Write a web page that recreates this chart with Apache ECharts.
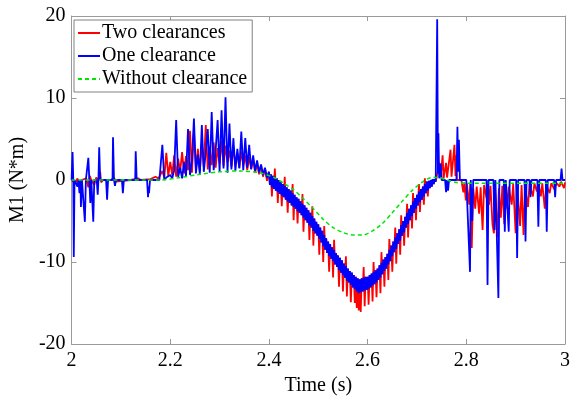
<!DOCTYPE html>
<html>
<head>
<meta charset="utf-8">
<script src="https://cdn.jsdelivr.net/npm/echarts@6/dist/echarts.min.js"></script>
<style>
  html, body { margin: 0; padding: 0; background: #fff; }
  #chart { width: 574px; height: 401px; }
</style>
</head>
<body>
<div id="chart"></div>
<script>
// Torque M1 over time for three joint clearance cases.
const seriesNames = ['Two clearances', 'One clearance', 'Without clearance'];
const xTicks = [2, 2.2, 2.4, 2.6, 2.8, 3];
const yTicks = [-20, -10, 0, 10, 20];

// Sparse samples before the burst (time, value)
const redPreT = [2.000, 2.008, 2.012, 2.016, 2.020, 2.030, 2.034, 2.037, 2.040, 2.046, 2.050, 2.055, 2.058, 2.060, 2.064, 2.080, 2.086, 2.090, 2.094, 2.120, 2.135, 2.140, 2.160, 2.170, 2.176];
const redPreV = [0, -0.4, 0.2, -0.8, 0, 0.2, -0.9, 0.5, 0, -0.6, 0.3, 0, 1.0, -0.3, 0, 0, 0.3, -0.2, 0, 0, 0.2, 0, 0.1, 0.4, 0.2];

const bluePreT = [2.000, 2.002, 2.0035, 2.0045, 2.006, 2.010, 2.012, 2.014, 2.016, 2.018, 2.019, 2.021, 2.025, 2.027, 2.029, 2.033, 2.034, 2.036, 2.038, 2.040, 2.043, 2.044, 2.046, 2.051, 2.053, 2.0545, 2.056, 2.058, 2.070, 2.072, 2.074, 2.083, 2.084, 2.086, 2.088, 2.090, 2.102, 2.104, 2.106, 2.129, 2.130, 2.132, 2.153, 2.155, 2.156, 2.157, 2.159, 2.178];
const bluePreV = [0, 3.4, 0, -9.4, 0, 0, -0.8, 0, -1.6, 0, -3.3, 0, 0, -5.1, 0, 0, 2.7, 0, -2.8, 0, 0, -5.1, 0, 0, -1.8, 0, 4.0, 0, 0, -2.4, 0, 0, 5.2, 0, -0.7, 0, 0, -1.6, 0, 0, 3.5, 0, 0, -2.1, -0.8, -1.6, 0, 0];

// Burst of impacts, evenly sampled from 2.180 s to 2.396 s
const burstStart = 2.18;
const burstStep = 0.004;
const redBurst = [
  0.2, 1.1, 0.3, 3.3, 0.5, 2.2, 0.6, 3.0, 0.4, 2.6,
  1.0, 3.4, 0.8, 2.9, 1.2, 6.0, 0.9, 5.9, 1.4, 3.8,
  1.1, 4.4, 1.6, 6.7, 1.3, 4.1, 1.8, 4.6, 1.5, 3.9,
  2.0, 4.8, 1.7, 4.2, 2.2, 3.6, 1.6, 4.0, 1.9, 3.3,
  1.5, 3.5, 1.8, 3.0, 1.2, 2.8, 1.4, 2.5, 0.9, 2.1,
  0.7, 1.8, 0.4, 1.4, -0.1
];
const blueBurst = [
  0.1, 4.3, 0.0, 0.3, 0.1, 0.6, 0.2, 1.2, 7.3, 0.4,
  1.5, 0.2, 2.2, 0.5, 6.2, 0.6, 2.4, 7.5, 0.8, 3.1,
  0.7, 6.7, 1.0, 3.4, 6.2, 0.9, 8.3, 1.2, 3.6, 7.3,
  1.0, 8.5, 1.4, 10.1, 0.9, 6.9, 1.3, 5.1, 1.1, 3.8,
  1.4, 5.9, 1.2, 5.1, 1.5, 4.3, 1.3, 3.0, 1.1, 2.4,
  0.9, 1.9, 0.6, 1.5, 0.3
];

// Torque dip, evenly sampled from 2.400 s to 2.740 s
const dipStart = 2.40;
const dipStep = 0.002;
const redDip = [
  1.0, -0.6, 0.7, -2.0, 0.5, -1.1, 1.4, -1.3, 0.2, -2.8,
  0.0, -1.7, -0.2, -3.2, -0.5, -2.1, 0.4, -2.4, -0.9, -4.0,
  -1.1, -2.8, -1.3, -3.1, -0.5, -4.9, -1.8, -3.5, -2.1, -5.3,
  -2.3, -4.0, -2.6, -4.3, -1.7, -6.3, -3.1, -4.9, -3.4, -5.2,
  -3.7, -7.3, -4.0, -5.8, -3.2, -8.0, -4.7, -6.5, -5.1, -6.8,
  -5.4, -9.1, -5.8, -7.6, -6.2, -10.0, -5.6, -8.5, -7.1, -8.9,
  -7.5, -11.2, -7.8, -9.6, -8.2, -11.9, -7.3, -10.3, -8.9, -10.6,
  -9.2, -13.0, -9.5, -11.3, -9.8, -13.6, -10.2, -11.9, -9.3, -14.2,
  -10.8, -12.5, -11.1, -14.9, -11.3, -13.1, -11.6, -15.0, -11.8, -15.6,
  -12.0, -15.9, -12.1, -16.1, -12.0, -13.6, -10.6, -15.4, -11.8, -13.4,
  -11.8, -15.2, -11.6, -13.1, -11.4, -14.8, -10.0, -12.7, -11.0, -14.3,
  -10.8, -12.2, -10.4, -13.8, -8.8, -11.5, -9.7, -13.0, -9.4, -10.8,
  -9.0, -12.2, -7.2, -9.9, -8.0, -11.2, -7.5, -8.8, -5.8, -10.2,
  -6.5, -7.8, -6.0, -9.1, -4.3, -6.8, -5.0, -8.0, -4.5, -5.8,
  -2.9, -7.0, -3.5, -4.9, -3.1, -5.9, -1.6, -4.0, -2.2, -4.9,
  -1.8, -3.1, -0.5, -3.9, -1.1, -2.4, -0.8, -3.0, 0.2, -1.6,
  -0.2, -2.0, -0.1, -1.0, 0.0, -0.8, 0.1, -0.5, 0.1, -0.2,
  0.0
];
const blueDip = [
  1.0, -0.6, 0.7, -0.9, 0.5, -1.1, 0.4, -1.3, 0.2, -1.5,
  0.0, -1.7, -0.2, -1.9, -0.5, -2.1, -0.7, -2.4, -0.9, -2.6,
  -1.1, -2.8, -1.3, -3.1, -1.6, -3.3, -1.8, -3.5, -2.1, -3.8,
  -2.3, -4.0, -2.6, -4.3, -2.9, -4.6, -3.1, -4.9, -3.4, -5.2,
  -3.7, -5.5, -4.0, -5.8, -4.4, -6.2, -4.7, -6.5, -5.1, -6.8,
  -5.4, -7.2, -5.8, -7.6, -6.2, -8.1, -6.7, -8.5, -7.1, -8.9,
  -7.5, -9.3, -7.8, -9.6, -8.2, -9.9, -8.5, -10.3, -8.9, -10.6,
  -9.2, -11.0, -9.5, -11.3, -9.8, -11.6, -10.2, -11.9, -10.5, -12.3,
  -10.8, -12.5, -11.1, -12.8, -11.3, -13.1, -11.6, -13.3, -11.8, -13.6,
  -12.0, -13.8, -12.1, -13.7, -12.0, -13.6, -11.9, -13.5, -11.8, -13.4,
  -11.8, -13.3, -11.6, -13.1, -11.4, -12.9, -11.2, -12.7, -11.0, -12.5,
  -10.8, -12.2, -10.4, -11.9, -10.1, -11.5, -9.7, -11.1, -9.4, -10.8,
  -9.0, -10.3, -8.5, -9.9, -8.0, -9.3, -7.5, -8.8, -7.0, -8.4,
  -6.5, -7.8, -6.0, -7.4, -5.5, -6.8, -5.0, -6.4, -4.5, -5.8,
  -4.0, -5.4, -3.5, -4.9, -3.1, -4.4, -2.6, -4.0, -2.2, -3.5,
  -1.8, -3.1, -1.4, -2.7, -1.1, -2.4, -0.8, -2.0, -0.5, -1.6,
  -0.2, -1.3, -0.1, -1.0, 0.0, -0.8, 0.1, -0.5, 0.1, -0.2,
  0.0
];

// Sparse samples after the dip (time, value)
const redPostT = [2.7405, 2.7455, 2.748, 2.752, 2.754, 2.759, 2.761, 2.768, 2.770, 2.776, 2.778, 2.779, 2.781, 2.790, 2.794, 2.796, 2.799, 2.801, 2.806, 2.808, 2.811, 2.814, 2.818, 2.821, 2.826, 2.829, 2.833, 2.836, 2.841, 2.844, 2.846, 2.849, 2.853, 2.856, 2.858, 2.863, 2.866, 2.870, 2.873, 2.877, 2.880, 2.883, 2.886, 2.892, 2.895, 2.900, 2.903, 2.909, 2.912, 2.916, 2.919, 2.925, 2.928, 2.935, 2.938, 2.943, 2.946, 2.951, 2.954, 2.959, 2.962, 2.969, 2.972, 2.979, 2.982, 2.989, 2.992, 2.998, 3.000];
const redPostV = [0, 2.1, 0.3, 3.0, 0.2, 2.1, 0.3, 3.7, 0.4, 4.3, 0.5, 3.0, 0, 0, -1.5, -0.3, -2.5, -0.4, -3.0, -0.5, -8.3, -1.0, -3.5, -0.8, -4.1, -0.9, -6.1, -0.6, -2.2, -0.5, -3.0, -0.7, -5.4, -6.5, -0.8, -7.0, -1.0, -4.6, -0.7, -5.4, -0.6, -3.5, -0.8, -3.0, -0.5, -6.5, -0.7, -5.6, -0.6, -6.7, -0.8, -3.3, -0.5, -2.0, -0.4, -1.4, -0.3, -2.0, -0.4, -3.5, -0.6, -1.6, -0.4, -1.2, -0.3, -0.8, -0.2, -1.0, -0.3];

const bluePostT = [2.7405, 2.741, 2.7425, 2.7435, 2.745, 2.748, 2.750, 2.757, 2.759, 2.761, 2.763, 2.765, 2.780, 2.782, 2.7835, 2.785, 2.787, 2.800, 2.8075, 2.809, 2.812, 2.814, 2.841, 2.843, 2.845, 2.855, 2.857, 2.859, 2.863, 2.865, 2.867, 2.876, 2.878, 2.880, 2.884, 2.886, 2.888, 2.901, 2.903, 2.905, 2.918, 2.920, 2.922, 2.928, 2.930, 2.932, 2.944, 2.946, 2.948, 2.961, 2.963, 2.965, 2.978, 2.980, 2.982, 2.991, 2.993, 2.995, 3.000];
const bluePostV = [0, 19.6, 0.8, 5.7, 0.2, 2.0, 0, 0, -1.5, 0, -1.3, 0, 0, 6.5, 1.0, 4.9, 0, 0, -11.2, 0, -5.0, 0, 0, -12.8, 0, 0, -6.1, 0, 0, -14.4, 0, 0, -6.3, 0, 0, -6.3, 0, 0, -9.5, 0, 0, -7.5, 0, 0, -2.1, 0, 0, -5.7, 0, 0, -6.3, 0, 0, -2.1, 0, 0, 1.4, 0, 0];

// Rigid case, smooth curve
const greenT = [2.00, 2.18, 2.22, 2.26, 2.30, 2.34, 2.38, 2.41, 2.43, 2.45, 2.47, 2.49, 2.51, 2.53, 2.55, 2.57, 2.59, 2.61, 2.63, 2.65, 2.67, 2.69, 2.71, 2.73, 2.745, 2.76, 2.78, 2.80, 3.00];
const greenV = [0, 0, 0.3, 0.7, 1.0, 1.1, 0.9, 0.3, -0.4, -1.2, -2.3, -3.5, -4.8, -5.8, -6.4, -6.7, -6.7, -6.2, -5.3, -4.0, -2.6, -1.3, -0.3, 0.3, 0.3, 0, -0.3, -0.4, -0.4];

function pairs(ts, vs) {
  return ts.map((t, i) => [t, vs[i]]);
}
function sampled(start, step, vs) {
  return vs.map((v, i) => [+(start + i * step).toFixed(4), v]);
}

const redData = pairs(redPreT, redPreV).concat(
  sampled(burstStart, burstStep, redBurst),
  sampled(dipStart, dipStep, redDip),
  pairs(redPostT, redPostV));
const blueData = pairs(bluePreT, bluePreV).concat(
  sampled(burstStart, burstStep, blueBurst),
  sampled(dipStart, dipStep, blueDip),
  pairs(bluePostT, bluePostV));
const greenData = pairs(greenT, greenV);

const serif = 'Liberation Serif';
const axisGrey = '#9a9a9a';

const chart = echarts.init(document.getElementById('chart'), null, { renderer: 'canvas' });

const boxAxis = {
  axisLine: { show: true, onZero: false, lineStyle: { color: axisGrey, width: 1 } },
  axisTick: { show: true, inside: true, length: 5, lineStyle: { color: axisGrey } },
  splitLine: { show: false }
};

chart.setOption({
  animation: false,
  backgroundColor: '#fff',
  grid: { left: 67, right: 9, top: 16, bottom: 57, containLabel: false },
  legend: {
    orient: 'vertical',
    left: 74,
    top: 20,
    data: seriesNames,
    itemWidth: 22,
    itemHeight: 12,
    itemGap: 3,
    padding: [3, 5, 3, 3],
    borderColor: '#808080',
    borderWidth: 1,
    borderRadius: 0,
    backgroundColor: '#fff',
    itemStyle: { opacity: 0 },
    textStyle: { fontFamily: serif, fontSize: 20, color: '#000', padding: [0, 0, 0, -3] }
  },
  xAxis: [
    Object.assign({
      type: 'value', min: xTicks[0], max: xTicks[xTicks.length - 1], interval: 0.2,
      name: 'Time (s)', nameLocation: 'middle', nameGap: 28,
      nameTextStyle: { fontFamily: serif, fontSize: 20, color: '#000' },
      axisLabel: { fontFamily: serif, fontSize: 20, color: '#000', margin: 7,
        formatter: v => String(+v.toFixed(1)) }
    }, boxAxis),
    Object.assign({
      type: 'value', position: 'top', min: xTicks[0], max: xTicks[xTicks.length - 1], interval: 0.2,
      axisLabel: { show: false }
    }, boxAxis)
  ],
  yAxis: [
    Object.assign({
      type: 'value', min: yTicks[0], max: yTicks[yTicks.length - 1], interval: 10,
      name: 'M1 (N*m)', nameLocation: 'middle', nameGap: 40,
      nameTextStyle: { fontFamily: serif, fontSize: 20, color: '#000' },
      axisLabel: { fontFamily: serif, fontSize: 20, color: '#000', margin: 6 }
    }, boxAxis),
    Object.assign({
      type: 'value', position: 'right', min: yTicks[0], max: yTicks[yTicks.length - 1], interval: 10,
      axisLabel: { show: false }
    }, boxAxis)
  ],
  series: [
    {
      name: seriesNames[0], type: 'line', data: redData, symbol: 'none',
      lineStyle: { color: '#ff0000', width: 1.8 }, itemStyle: { color: '#ff0000' }
    },
    {
      name: seriesNames[1], type: 'line', data: blueData, symbol: 'none',
      lineStyle: { color: '#0000ff', width: 1.8 }, itemStyle: { color: '#0000ff' }
    },
    {
      name: seriesNames[2], type: 'line', data: greenData, symbol: 'none', smooth: 0.3,
      lineStyle: { color: '#00e600', width: 1.5, type: [4, 3] }, itemStyle: { color: '#00e600' }
    }
  ]
});
</script>
</body>
</html>
